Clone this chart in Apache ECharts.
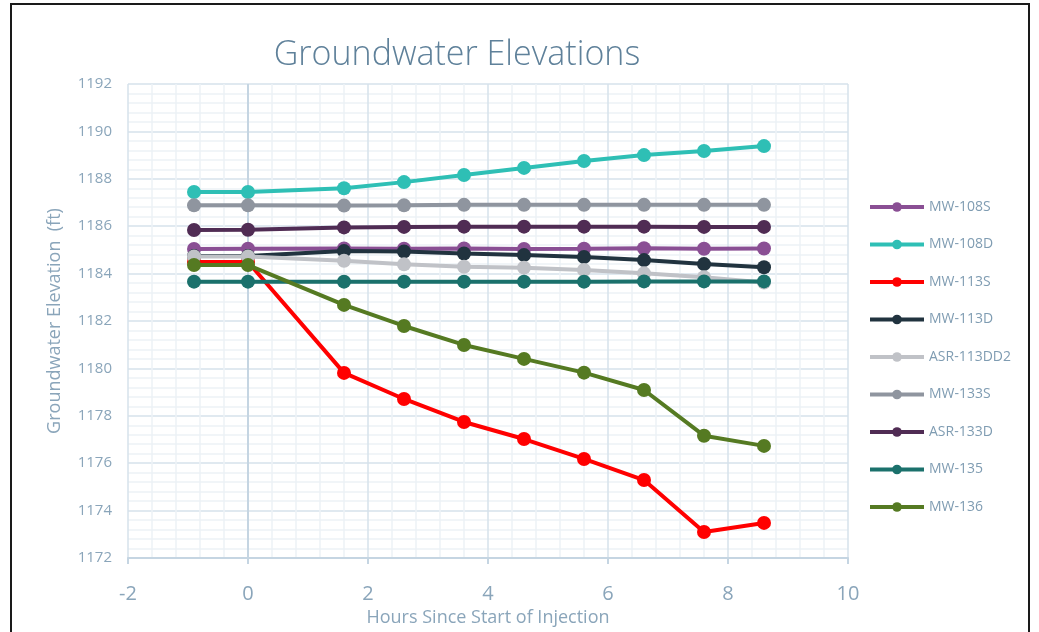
<!DOCTYPE html>
<html>
<head>
<meta charset="utf-8">
<script src="https://cdn.jsdelivr.net/npm/echarts@6/dist/echarts.min.js"></script>
<style>
  html, body { margin: 0; padding: 0; background: #fff; }
  #main { width: 1039px; height: 632px; }
  #frame { position: absolute; left: 10px; top: 3px; width: 1016px; height: 660px; border: 2px solid #1a1a1a; pointer-events: none; }
</style>
</head>
<body>
<div id="main"></div>
<div id="frame"></div>
<script>
// hours since start of injection
var hours = [-0.9, 0, 1.6, 2.6, 3.6, 4.6, 5.6, 6.6, 7.6, 8.6];

var mw108S  = [1185.04, 1185.05, 1185.06, 1185.05, 1185.06, 1185.04, 1185.05, 1185.07, 1185.05, 1185.06];
var mw108D  = [1187.44, 1187.44, 1187.60, 1187.86, 1188.16, 1188.46, 1188.75, 1189.00, 1189.17, 1189.38];
var mw113S  = [1184.49, 1184.49, 1179.81, 1178.71, 1177.74, 1177.02, 1176.18, 1175.29, 1173.10, 1173.48];
var mw113D  = [1184.74, 1184.74, 1184.95, 1184.93, 1184.85, 1184.78, 1184.70, 1184.57, 1184.40, 1184.27];
var asr113DD2 = [1184.72, 1184.72, 1184.54, 1184.39, 1184.29, 1184.25, 1184.15, 1184.01, 1183.85, 1183.62];
var mw133S  = [1186.88, 1186.88, 1186.87, 1186.88, 1186.90, 1186.90, 1186.90, 1186.90, 1186.90, 1186.90];
var asr133D = [1185.84, 1185.85, 1185.95, 1185.97, 1185.98, 1185.98, 1185.98, 1185.98, 1185.97, 1185.97];
var mw135   = [1183.66, 1183.66, 1183.66, 1183.66, 1183.66, 1183.66, 1183.66, 1183.67, 1183.67, 1183.67];
var mw136   = [1184.36, 1184.36, 1182.68, 1181.79, 1180.99, 1180.40, 1179.82, 1179.09, 1177.16, 1176.73];

var wells = [
  ['MW-108S', mw108S, '#8a4f94'],
  ['MW-108D', mw108D, '#2ebfb5'],
  ['MW-113S', mw113S, '#ff0000'],
  ['MW-113D', mw113D, '#21333f'],
  ['ASR-113DD2', asr113DD2, '#c0c2c7'],
  ['MW-133S', mw133S, '#8f959f'],
  ['ASR-133D', asr133D, '#502c54'],
  ['MW-135', mw135, '#1b716c'],
  ['MW-136', mw136, '#557a22']
];

var axisText = '#8aa5ba';
var font = '"Open Sans", "Noto Sans", sans-serif';

var series = wells.map(function (w, i) {
  var s = {
    name: w[0],
    type: 'line',
    data: hours.map(function (h, j) { return [h, w[1][j]]; }),
    symbol: 'circle',
    symbolSize: 14,
    color: w[2],
    lineStyle: { width: 4, color: w[2] },
    itemStyle: { color: w[2] },
    z: 3 + i
  };
  if (i === 0) {
    // vertical axis line at x = 0
    s.markLine = {
      silent: true,
      symbol: 'none',
      label: { show: false },
      lineStyle: { color: '#c5d5e2', width: 2, type: 'solid' },
      data: [{ xAxis: 0 }],
      z: 1
    };
  }
  return s;
});

var myChart = echarts.init(document.getElementById('main'));
var option = {
  animation: false,
  title: {
    text: 'Groundwater Elevations',
    left: 452,
    textAlign: 'center',
    top: 33,
    textStyle: { color: '#5f819a', fontSize: 34, fontWeight: 300, fontFamily: font }
  },
  grid: { left: 128, right: 191, top: 84, bottom: 74, outerBoundsMode: 'none' },
  legend: {
    orient: 'vertical',
    left: 868,
    top: 200,
    padding: 0,
    itemWidth: 54,
    itemHeight: 12,
    itemGap: 23.5,
    lineStyle: { width: 4 },
    textStyle: { color: '#7f9cb2', fontSize: 14, fontFamily: font }
  },
  xAxis: {
    type: 'value',
    min: -2, max: 10, interval: 2,
    name: 'Hours Since Start of Injection',
    nameLocation: 'middle',
    nameGap: 50,
    nameTextStyle: { color: axisText, fontSize: 18, fontFamily: font },
    axisLine: { onZero: false, lineStyle: { color: '#c5d5e2', width: 2 } },
    axisTick: { show: true, length: 6, lineStyle: { color: '#c5d5e2', width: 2 } },
    axisLabel: { color: axisText, fontSize: 20, margin: 26, fontFamily: font },
    splitLine: { lineStyle: { color: '#d6e2eb', width: 1.5 } },
    minorTick: { show: false, splitNumber: 5 },
    minorSplitLine: { show: true, lineStyle: { color: '#edf2f6', width: 1.5 } }
  },
  yAxis: {
    type: 'value',
    min: 1172, max: 1192, interval: 2,
    name: 'Groundwater Elevation  (ft)',
    nameLocation: 'middle',
    nameGap: 64,
    nameTextStyle: { color: axisText, fontSize: 18, fontFamily: font },
    axisLine: { show: true, lineStyle: { color: '#dbe5ee', width: 1.5 } },
    axisTick: { show: false },
    axisLabel: { color: axisText, fontSize: 15, margin: 16, fontFamily: font, formatter: function (v) { return String(v); } },
    splitLine: { lineStyle: { color: '#d6e2eb', width: 1.5 } },
    minorTick: { show: false, splitNumber: 5 },
    minorSplitLine: { show: true, lineStyle: { color: '#edf2f6', width: 1.5 } }
  },
  series: series
};
myChart.setOption(option);
</script>
</body>
</html>
